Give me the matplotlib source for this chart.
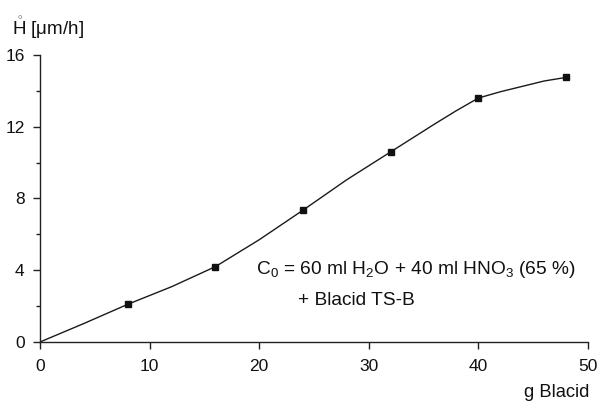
import matplotlib.pyplot as plt

plt.rcParams['font.family'] = ['Liberation Sans', 'DejaVu Sans']
plt.rcParams['mathtext.fontset'] = 'custom'
plt.rcParams['mathtext.rm'] = 'Liberation Sans'

# measured points
blacid_g = [8, 16, 24, 32, 40, 48]
rate = [2.1, 4.2, 7.35, 10.6, 13.6, 14.75]

# hand-drawn fitted curve
curve_x = [0, 4, 8, 12, 16, 20, 24, 28, 32, 36, 38, 40, 42, 44, 46, 48]
curve_y = [0, 1.03, 2.1, 3.08, 4.2, 5.7, 7.35, 9.05, 10.6, 12.15, 12.9, 13.6, 13.95, 14.25, 14.55, 14.75]

x_ticks = [0, 10, 20, 30, 40, 50]
y_ticks = [0, 4, 8, 12, 16]
y_minor = [2, 6, 10, 14]

fig = plt.figure(figsize=(6, 4.04), dpi=100)
ax = fig.add_axes([0.0667, 0.1535, 0.9133, 0.7104])

ax.plot(curve_x, curve_y, color='#1a1a1a', lw=1.0)
ax.plot(blacid_g, rate, 's', color='#111111', ms=5, lw=0)

ax.set_xlim(0, 50)
ax.set_ylim(0, 16)
ax.set_xticks(x_ticks)
ax.set_yticks(y_ticks)
ax.set_yticks(y_minor, minor=True)
ax.spines['top'].set_visible(False)
ax.spines['right'].set_visible(False)
for s in ['left', 'bottom']:
    ax.spines[s].set_linewidth(1.0)
    ax.spines[s].set_color('#222222')
ax.tick_params(axis='both', which='major', length=5, width=1.0,
               labelsize=12.5, color='#222222', labelcolor='#111111')
ax.tick_params(axis='y', which='minor', length=3, width=1.0, color='#222222')
ax.tick_params(axis='x', pad=7)
ax.tick_params(axis='y', pad=6)

# y label, H with ring accent
fig.text(0.02, 0.913, r'$\mathring{\mathrm{H}}$ [$\mathregular{\mu}$m/h]', fontsize=13.5,
         ha='left', va='baseline', color='#111111')
fig.text(0.982, 0.017, 'g Blacid', fontsize=13.2, ha='right', va='baseline',
         color='#111111')

fig.text(0.427, 0.332, r'C$_\mathregular{0}$ = 60 ml H$_\mathregular{2}$O + 40 ml HNO$_\mathregular{3}$ (65 %)',
         fontsize=13.8, va='center', color='#111111')
fig.text(0.497, 0.257, '+ Blacid TS-B', fontsize=13.8, va='center',
         color='#111111')

fig.savefig('out.png', dpi=100)
